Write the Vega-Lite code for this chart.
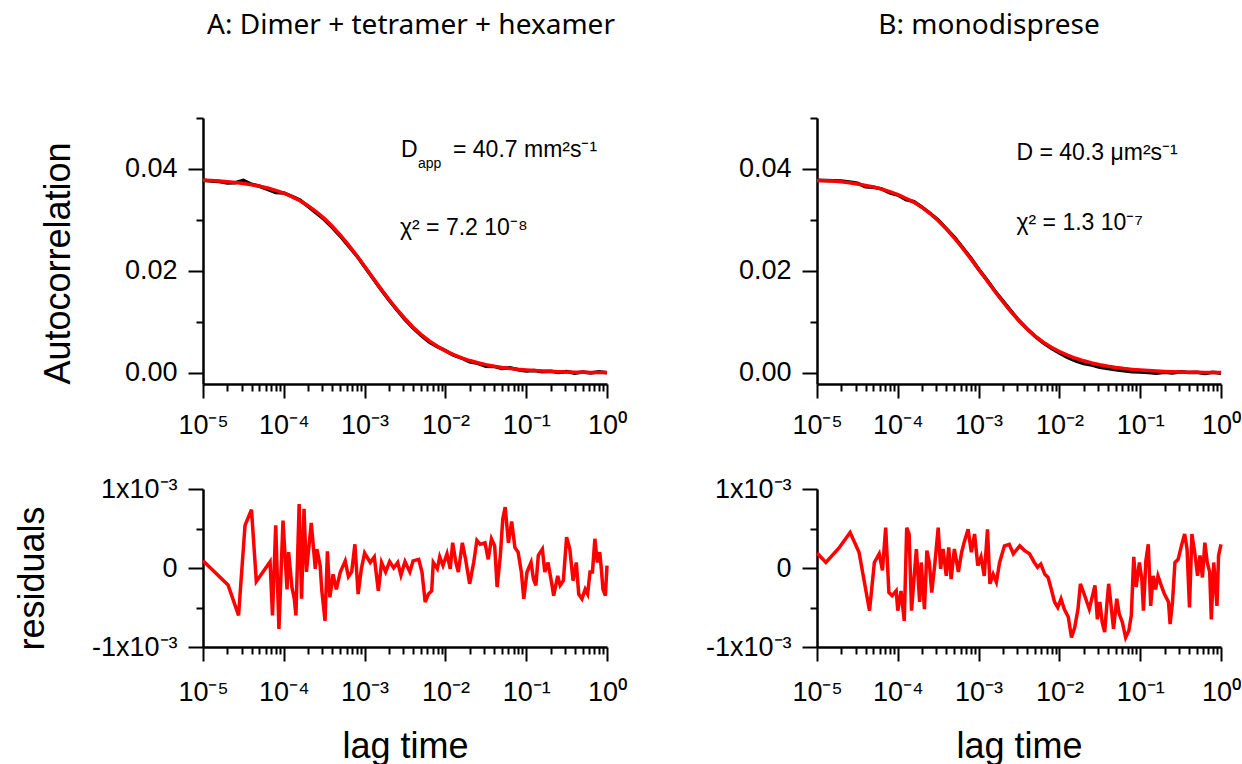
{
  "$schema": "https://vega.github.io/schema/vega-lite/v6.json",
  "autosize": {"type": "pad"},
  "padding": {"left": 14, "top": 12, "right": 0, "bottom": 0},
  "background": "white",
  "config": {
    "view": {"stroke": null},
    "axis": {"grid": false, "domainColor": "#000", "domainWidth": 2.5, "tickColor": "#000", "tickWidth": 2, "labelFont": "Liberation Sans", "labelFontSize": 27, "labelColor": "#000", "titleFont": "Liberation Sans", "titleFontSize": 36, "titleFontWeight": "normal", "titleColor": "#000", "labelOverlap": false, "labelFlush": false},
    "title": {"font": "Noto Sans", "fontSize": 28, "fontWeight": "normal", "color": "#000"}
  },
  "datasets": {
    "fitA": [
      {"log_lag": -5.0, "autocorrelation": 0.0378}, {"log_lag": -4.9, "autocorrelation": 0.03772}, {"log_lag": -4.8, "autocorrelation": 0.03762}, {"log_lag": -4.7, "autocorrelation": 0.0375}, {"log_lag": -4.6, "autocorrelation": 0.03735}, {"log_lag": -4.5, "autocorrelation": 0.03716}, {"log_lag": -4.4, "autocorrelation": 0.03692}, {"log_lag": -4.3, "autocorrelation": 0.03662}, {"log_lag": -4.2, "autocorrelation": 0.03625}, {"log_lag": -4.1, "autocorrelation": 0.0358}, {"log_lag": -4.0, "autocorrelation": 0.03525}, {"log_lag": -3.9, "autocorrelation": 0.03458}, {"log_lag": -3.8, "autocorrelation": 0.03377}, {"log_lag": -3.7, "autocorrelation": 0.0328}, {"log_lag": -3.6, "autocorrelation": 0.03165}, {"log_lag": -3.5, "autocorrelation": 0.0303}, {"log_lag": -3.4, "autocorrelation": 0.02875}, {"log_lag": -3.3, "autocorrelation": 0.027}, {"log_lag": -3.2, "autocorrelation": 0.0251}, {"log_lag": -3.1, "autocorrelation": 0.02305}, {"log_lag": -3.0, "autocorrelation": 0.0209}, {"log_lag": -2.9, "autocorrelation": 0.0187}, {"log_lag": -2.8, "autocorrelation": 0.01652}, {"log_lag": -2.7, "autocorrelation": 0.0144}, {"log_lag": -2.6, "autocorrelation": 0.01242}, {"log_lag": -2.5, "autocorrelation": 0.0106}, {"log_lag": -2.4, "autocorrelation": 0.00895}, {"log_lag": -2.3, "autocorrelation": 0.0075}, {"log_lag": -2.2, "autocorrelation": 0.00625}, {"log_lag": -2.1, "autocorrelation": 0.0052}, {"log_lag": -2.0, "autocorrelation": 0.0043}, {"log_lag": -1.9, "autocorrelation": 0.00355}, {"log_lag": -1.8, "autocorrelation": 0.00292}, {"log_lag": -1.7, "autocorrelation": 0.0024}, {"log_lag": -1.6, "autocorrelation": 0.00197}, {"log_lag": -1.5, "autocorrelation": 0.0016}, {"log_lag": -1.4, "autocorrelation": 0.0013}, {"log_lag": -1.3, "autocorrelation": 0.00105}, {"log_lag": -1.2, "autocorrelation": 0.00085}, {"log_lag": -1.1, "autocorrelation": 0.00068}, {"log_lag": -1.0, "autocorrelation": 0.00055}, {"log_lag": -0.9, "autocorrelation": 0.00044}, {"log_lag": -0.8, "autocorrelation": 0.00035}, {"log_lag": -0.7, "autocorrelation": 0.00028}, {"log_lag": -0.6, "autocorrelation": 0.00022}, {"log_lag": -0.5, "autocorrelation": 0.00017}, {"log_lag": -0.4, "autocorrelation": 0.00013}, {"log_lag": -0.3, "autocorrelation": 0.0001}, {"log_lag": -0.2, "autocorrelation": 0.00008}, {"log_lag": -0.1, "autocorrelation": 0.00006}, {"log_lag": 0.0, "autocorrelation": 0.00005}
    ],
    "dataA": [
      {"log_lag": -5.0, "autocorrelation": 0.0378}, {"log_lag": -4.9, "autocorrelation": 0.03765}, {"log_lag": -4.8, "autocorrelation": 0.03755}, {"log_lag": -4.7, "autocorrelation": 0.03725}, {"log_lag": -4.6, "autocorrelation": 0.0373}, {"log_lag": -4.5, "autocorrelation": 0.03775}, {"log_lag": -4.4, "autocorrelation": 0.037}, {"log_lag": -4.3, "autocorrelation": 0.0366}, {"log_lag": -4.2, "autocorrelation": 0.036}, {"log_lag": -4.1, "autocorrelation": 0.0354}, {"log_lag": -4.0, "autocorrelation": 0.0353}, {"log_lag": -3.9, "autocorrelation": 0.0346}, {"log_lag": -3.8, "autocorrelation": 0.0339}, {"log_lag": -3.7, "autocorrelation": 0.03265}, {"log_lag": -3.6, "autocorrelation": 0.0314}, {"log_lag": -3.5, "autocorrelation": 0.0301}, {"log_lag": -3.4, "autocorrelation": 0.0285}, {"log_lag": -3.3, "autocorrelation": 0.0268}, {"log_lag": -3.2, "autocorrelation": 0.0249}, {"log_lag": -3.1, "autocorrelation": 0.023}, {"log_lag": -3.0, "autocorrelation": 0.0208}, {"log_lag": -2.9, "autocorrelation": 0.0186}, {"log_lag": -2.8, "autocorrelation": 0.0164}, {"log_lag": -2.7, "autocorrelation": 0.0143}, {"log_lag": -2.6, "autocorrelation": 0.01235}, {"log_lag": -2.5, "autocorrelation": 0.01045}, {"log_lag": -2.4, "autocorrelation": 0.0088}, {"log_lag": -2.3, "autocorrelation": 0.00735}, {"log_lag": -2.2, "autocorrelation": 0.00605}, {"log_lag": -2.1, "autocorrelation": 0.0051}, {"log_lag": -2.0, "autocorrelation": 0.00435}, {"log_lag": -1.9, "autocorrelation": 0.00345}, {"log_lag": -1.8, "autocorrelation": 0.0029}, {"log_lag": -1.7, "autocorrelation": 0.00215}, {"log_lag": -1.6, "autocorrelation": 0.00185}, {"log_lag": -1.5, "autocorrelation": 0.0013}, {"log_lag": -1.4, "autocorrelation": 0.00125}, {"log_lag": -1.3, "autocorrelation": 0.00085}, {"log_lag": -1.2, "autocorrelation": 0.001}, {"log_lag": -1.1, "autocorrelation": 0.0006}, {"log_lag": -1.0, "autocorrelation": 0.00035}, {"log_lag": -0.9, "autocorrelation": 0.00045}, {"log_lag": -0.8, "autocorrelation": 0.0002}, {"log_lag": -0.7, "autocorrelation": 0.0003}, {"log_lag": -0.6, "autocorrelation": 0.00005}, {"log_lag": -0.5, "autocorrelation": 0.00025}, {"log_lag": -0.4, "autocorrelation": -0.0001}, {"log_lag": -0.3, "autocorrelation": 0.00015}, {"log_lag": -0.2, "autocorrelation": -0.00005}, {"log_lag": -0.1, "autocorrelation": 0.0002}, {"log_lag": 0.0, "autocorrelation": 0.0}
    ],
    "fitB": [
      {"log_lag": -5.0, "autocorrelation": 0.03775}, {"log_lag": -4.9, "autocorrelation": 0.0377}, {"log_lag": -4.8, "autocorrelation": 0.03762}, {"log_lag": -4.7, "autocorrelation": 0.03748}, {"log_lag": -4.6, "autocorrelation": 0.0373}, {"log_lag": -4.5, "autocorrelation": 0.03705}, {"log_lag": -4.4, "autocorrelation": 0.03678}, {"log_lag": -4.3, "autocorrelation": 0.03645}, {"log_lag": -4.2, "autocorrelation": 0.03605}, {"log_lag": -4.1, "autocorrelation": 0.03555}, {"log_lag": -4.0, "autocorrelation": 0.03495}, {"log_lag": -3.9, "autocorrelation": 0.03425}, {"log_lag": -3.8, "autocorrelation": 0.03345}, {"log_lag": -3.7, "autocorrelation": 0.03245}, {"log_lag": -3.6, "autocorrelation": 0.03125}, {"log_lag": -3.5, "autocorrelation": 0.02985}, {"log_lag": -3.4, "autocorrelation": 0.02825}, {"log_lag": -3.3, "autocorrelation": 0.02645}, {"log_lag": -3.2, "autocorrelation": 0.0245}, {"log_lag": -3.1, "autocorrelation": 0.02245}, {"log_lag": -3.0, "autocorrelation": 0.0203}, {"log_lag": -2.9, "autocorrelation": 0.01815}, {"log_lag": -2.8, "autocorrelation": 0.016}, {"log_lag": -2.7, "autocorrelation": 0.01395}, {"log_lag": -2.6, "autocorrelation": 0.012}, {"log_lag": -2.5, "autocorrelation": 0.0102}, {"log_lag": -2.4, "autocorrelation": 0.0086}, {"log_lag": -2.3, "autocorrelation": 0.0072}, {"log_lag": -2.2, "autocorrelation": 0.006}, {"log_lag": -2.1, "autocorrelation": 0.005}, {"log_lag": -2.0, "autocorrelation": 0.00415}, {"log_lag": -1.9, "autocorrelation": 0.00345}, {"log_lag": -1.8, "autocorrelation": 0.00285}, {"log_lag": -1.7, "autocorrelation": 0.00235}, {"log_lag": -1.6, "autocorrelation": 0.00192}, {"log_lag": -1.5, "autocorrelation": 0.00157}, {"log_lag": -1.4, "autocorrelation": 0.00127}, {"log_lag": -1.3, "autocorrelation": 0.00103}, {"log_lag": -1.2, "autocorrelation": 0.00083}, {"log_lag": -1.1, "autocorrelation": 0.00067}, {"log_lag": -1.0, "autocorrelation": 0.00054}, {"log_lag": -0.9, "autocorrelation": 0.00043}, {"log_lag": -0.8, "autocorrelation": 0.00034}, {"log_lag": -0.7, "autocorrelation": 0.00027}, {"log_lag": -0.6, "autocorrelation": 0.00021}, {"log_lag": -0.5, "autocorrelation": 0.00016}, {"log_lag": -0.4, "autocorrelation": 0.00012}, {"log_lag": -0.3, "autocorrelation": 0.00009}, {"log_lag": -0.2, "autocorrelation": 0.00007}, {"log_lag": -0.1, "autocorrelation": 0.00005}, {"log_lag": 0.0, "autocorrelation": 0.00004}
    ],
    "dataB": [
      {"log_lag": -5.0, "autocorrelation": 0.0378}, {"log_lag": -4.9, "autocorrelation": 0.03775}, {"log_lag": -4.8, "autocorrelation": 0.0377}, {"log_lag": -4.7, "autocorrelation": 0.03765}, {"log_lag": -4.6, "autocorrelation": 0.03745}, {"log_lag": -4.5, "autocorrelation": 0.0372}, {"log_lag": -4.4, "autocorrelation": 0.0365}, {"log_lag": -4.3, "autocorrelation": 0.0364}, {"log_lag": -4.2, "autocorrelation": 0.0361}, {"log_lag": -4.1, "autocorrelation": 0.0353}, {"log_lag": -4.0, "autocorrelation": 0.0349}, {"log_lag": -3.9, "autocorrelation": 0.034}, {"log_lag": -3.8, "autocorrelation": 0.0336}, {"log_lag": -3.7, "autocorrelation": 0.0325}, {"log_lag": -3.6, "autocorrelation": 0.0313}, {"log_lag": -3.5, "autocorrelation": 0.03}, {"log_lag": -3.4, "autocorrelation": 0.0283}, {"log_lag": -3.3, "autocorrelation": 0.0266}, {"log_lag": -3.2, "autocorrelation": 0.0246}, {"log_lag": -3.1, "autocorrelation": 0.0226}, {"log_lag": -3.0, "autocorrelation": 0.02035}, {"log_lag": -2.9, "autocorrelation": 0.0183}, {"log_lag": -2.8, "autocorrelation": 0.0161}, {"log_lag": -2.7, "autocorrelation": 0.0141}, {"log_lag": -2.6, "autocorrelation": 0.01215}, {"log_lag": -2.5, "autocorrelation": 0.01025}, {"log_lag": -2.4, "autocorrelation": 0.00865}, {"log_lag": -2.3, "autocorrelation": 0.00715}, {"log_lag": -2.2, "autocorrelation": 0.0059}, {"log_lag": -2.1, "autocorrelation": 0.0048}, {"log_lag": -2.0, "autocorrelation": 0.0039}, {"log_lag": -1.9, "autocorrelation": 0.003}, {"log_lag": -1.8, "autocorrelation": 0.00235}, {"log_lag": -1.7, "autocorrelation": 0.0018}, {"log_lag": -1.6, "autocorrelation": 0.0015}, {"log_lag": -1.5, "autocorrelation": 0.0011}, {"log_lag": -1.4, "autocorrelation": 0.00085}, {"log_lag": -1.3, "autocorrelation": 0.0006}, {"log_lag": -1.2, "autocorrelation": 0.0004}, {"log_lag": -1.1, "autocorrelation": 0.0002}, {"log_lag": -1.0, "autocorrelation": 0.00015}, {"log_lag": -0.9, "autocorrelation": 0.00005}, {"log_lag": -0.8, "autocorrelation": -0.0001}, {"log_lag": -0.7, "autocorrelation": 0.0001}, {"log_lag": -0.6, "autocorrelation": -0.00005}, {"log_lag": -0.5, "autocorrelation": 0.0002}, {"log_lag": -0.4, "autocorrelation": 0.00005}, {"log_lag": -0.3, "autocorrelation": 0.0001}, {"log_lag": -0.2, "autocorrelation": -0.00015}, {"log_lag": -0.1, "autocorrelation": 0.0001}, {"log_lag": 0.0, "autocorrelation": -0.0001}
    ],
    "resA": [
      {"log_lag": -5.0, "residual": 0.000093}, {"log_lag": -4.69, "residual": -0.000215}, {"log_lag": -4.56, "residual": -0.0006}, {"log_lag": -4.48, "residual": 0.00054}, {"log_lag": -4.4, "residual": 0.00074}, {"log_lag": -4.34, "residual": -0.00017}, {"log_lag": -4.17, "residual": 0.00008}, {"log_lag": -4.14, "residual": -0.0006}, {"log_lag": -4.1, "residual": 0.00054}, {"log_lag": -4.06, "residual": -0.00077}, {"log_lag": -4.01, "residual": 0.0006}, {"log_lag": -3.96, "residual": -0.00027}, {"log_lag": -3.94, "residual": 0.0002}, {"log_lag": -3.9, "residual": -0.00024}, {"log_lag": -3.87, "residual": -0.00039}, {"log_lag": -3.85, "residual": -0.0006}, {"log_lag": -3.81, "residual": 0.00081}, {"log_lag": -3.78, "residual": -0.00039}, {"log_lag": -3.75, "residual": 0.00075}, {"log_lag": -3.72, "residual": -0.00005}, {"log_lag": -3.66, "residual": 0.00057}, {"log_lag": -3.61, "residual": -0.00001}, {"log_lag": -3.59, "residual": 0.00024}, {"log_lag": -3.55, "residual": 0.00003}, {"log_lag": -3.53, "residual": -0.00028}, {"log_lag": -3.49, "residual": -0.00067}, {"log_lag": -3.46, "residual": 0.00021}, {"log_lag": -3.43, "residual": -0.00037}, {"log_lag": -3.39, "residual": -0.00008}, {"log_lag": -3.35, "residual": -0.00027}, {"log_lag": -3.3, "residual": -0.00005}, {"log_lag": -3.24, "residual": 0.00009}, {"log_lag": -3.2, "residual": -0.00011}, {"log_lag": -3.16, "residual": -0.00005}, {"log_lag": -3.12, "residual": 0.0003}, {"log_lag": -3.08, "residual": -0.00033}, {"log_lag": -3.04, "residual": -0.00001}, {"log_lag": -3.0, "residual": 0.00019}, {"log_lag": -2.93, "residual": 0.00007}, {"log_lag": -2.88, "residual": 0.00014}, {"log_lag": -2.83, "residual": -0.00029}, {"log_lag": -2.79, "residual": 0.00007}, {"log_lag": -2.74, "residual": -0.00005}, {"log_lag": -2.69, "residual": 0.00008}, {"log_lag": -2.64, "residual": 0.0}, {"log_lag": -2.59, "residual": 0.00007}, {"log_lag": -2.55, "residual": -0.00009}, {"log_lag": -2.5, "residual": 0.00008}, {"log_lag": -2.44, "residual": -0.00005}, {"log_lag": -2.4, "residual": 0.00009}, {"log_lag": -2.33, "residual": 0.00011}, {"log_lag": -2.29, "residual": -0.00005}, {"log_lag": -2.25, "residual": -0.00043}, {"log_lag": -2.21, "residual": -0.00033}, {"log_lag": -2.17, "residual": -0.00029}, {"log_lag": -2.15, "residual": 0.00007}, {"log_lag": -2.1, "residual": -0.00001}, {"log_lag": -2.07, "residual": 0.00014}, {"log_lag": -2.03, "residual": 0.00003}, {"log_lag": -1.98, "residual": 0.00018}, {"log_lag": -1.94, "residual": -0.00001}, {"log_lag": -1.91, "residual": 0.00032}, {"log_lag": -1.87, "residual": 0.00007}, {"log_lag": -1.84, "residual": -0.00005}, {"log_lag": -1.79, "residual": 0.00032}, {"log_lag": -1.75, "residual": 0.00011}, {"log_lag": -1.7, "residual": -0.0002}, {"log_lag": -1.65, "residual": 0.00007}, {"log_lag": -1.61, "residual": 0.00035}, {"log_lag": -1.57, "residual": 0.0003}, {"log_lag": -1.51, "residual": 0.00032}, {"log_lag": -1.47, "residual": 0.00011}, {"log_lag": -1.43, "residual": 0.00037}, {"log_lag": -1.39, "residual": 0.00028}, {"log_lag": -1.36, "residual": -0.00024}, {"log_lag": -1.32, "residual": 0.00016}, {"log_lag": -1.29, "residual": 0.00062}, {"log_lag": -1.26, "residual": 0.00077}, {"log_lag": -1.22, "residual": 0.00032}, {"log_lag": -1.18, "residual": 0.00059}, {"log_lag": -1.14, "residual": 0.00026}, {"log_lag": -1.1, "residual": 0.0002}, {"log_lag": -1.06, "residual": -0.00005}, {"log_lag": -1.03, "residual": -0.00039}, {"log_lag": -0.99, "residual": -0.00005}, {"log_lag": -0.94, "residual": 0.00007}, {"log_lag": -0.91, "residual": -0.00014}, {"log_lag": -0.88, "residual": -0.00022}, {"log_lag": -0.85, "residual": 0.00016}, {"log_lag": -0.8, "residual": 0.00024}, {"log_lag": -0.77, "residual": -0.00005}, {"log_lag": -0.73, "residual": 0.00007}, {"log_lag": -0.68, "residual": -0.00022}, {"log_lag": -0.66, "residual": -0.00035}, {"log_lag": -0.61, "residual": -0.0001}, {"log_lag": -0.58, "residual": -0.00022}, {"log_lag": -0.54, "residual": -0.00016}, {"log_lag": -0.5, "residual": 0.00039}, {"log_lag": -0.46, "residual": 0.00024}, {"log_lag": -0.42, "residual": -0.00016}, {"log_lag": -0.38, "residual": 0.00007}, {"log_lag": -0.35, "residual": -0.00033}, {"log_lag": -0.31, "residual": -0.00039}, {"log_lag": -0.27, "residual": -0.00027}, {"log_lag": -0.24, "residual": -0.00033}, {"log_lag": -0.21, "residual": -0.00005}, {"log_lag": -0.18, "residual": -0.00005}, {"log_lag": -0.15, "residual": 0.00037}, {"log_lag": -0.12, "residual": 0.00007}, {"log_lag": -0.09, "residual": 0.0002}, {"log_lag": -0.07, "residual": -0.00001}, {"log_lag": -0.05, "residual": -0.00027}, {"log_lag": -0.02, "residual": -0.00035}, {"log_lag": 0.0, "residual": 0.00003}
    ],
    "resB": [
      {"log_lag": -5.0, "residual": 0.00019}, {"log_lag": -4.89, "residual": 0.00007}, {"log_lag": -4.73, "residual": 0.00025}, {"log_lag": -4.59, "residual": 0.00045}, {"log_lag": -4.48, "residual": 0.0002}, {"log_lag": -4.35, "residual": -0.00054}, {"log_lag": -4.29, "residual": 0.00007}, {"log_lag": -4.23, "residual": 0.00018}, {"log_lag": -4.19, "residual": -0.00003}, {"log_lag": -4.15, "residual": 0.00051}, {"log_lag": -4.11, "residual": -0.00031}, {"log_lag": -4.07, "residual": -0.00035}, {"log_lag": -4.02, "residual": -0.00029}, {"log_lag": -4.0, "residual": -0.00054}, {"log_lag": -3.96, "residual": -0.00029}, {"log_lag": -3.92, "residual": -0.00067}, {"log_lag": -3.89, "residual": 0.00051}, {"log_lag": -3.86, "residual": 0.00043}, {"log_lag": -3.83, "residual": -0.00054}, {"log_lag": -3.8, "residual": -0.00014}, {"log_lag": -3.77, "residual": 0.00024}, {"log_lag": -3.73, "residual": -0.00043}, {"log_lag": -3.71, "residual": 0.00007}, {"log_lag": -3.67, "residual": -0.00052}, {"log_lag": -3.64, "residual": 0.00022}, {"log_lag": -3.61, "residual": 0.00007}, {"log_lag": -3.58, "residual": -0.00031}, {"log_lag": -3.54, "residual": 0.00007}, {"log_lag": -3.5, "residual": 0.00051}, {"log_lag": -3.47, "residual": -0.00001}, {"log_lag": -3.44, "residual": 0.00024}, {"log_lag": -3.4, "residual": -0.0001}, {"log_lag": -3.37, "residual": 0.00026}, {"log_lag": -3.34, "residual": -0.00014}, {"log_lag": -3.3, "residual": 0.00024}, {"log_lag": -3.25, "residual": -0.00005}, {"log_lag": -3.21, "residual": 0.0002}, {"log_lag": -3.18, "residual": 0.00032}, {"log_lag": -3.13, "residual": 0.00049}, {"log_lag": -3.09, "residual": 0.0002}, {"log_lag": -3.05, "residual": 0.00043}, {"log_lag": -3.01, "residual": 0.00003}, {"log_lag": -2.97, "residual": 0.00014}, {"log_lag": -2.93, "residual": -0.0001}, {"log_lag": -2.89, "residual": 0.00049}, {"log_lag": -2.86, "residual": -0.0002}, {"log_lag": -2.82, "residual": -0.00008}, {"log_lag": -2.78, "residual": -0.00018}, {"log_lag": -2.74, "residual": 0.00007}, {"log_lag": -2.68, "residual": 0.00028}, {"log_lag": -2.62, "residual": 0.0003}, {"log_lag": -2.57, "residual": 0.00018}, {"log_lag": -2.49, "residual": 0.00028}, {"log_lag": -2.43, "residual": 0.00022}, {"log_lag": -2.37, "residual": 0.00018}, {"log_lag": -2.31, "residual": 0.00007}, {"log_lag": -2.27, "residual": 0.00001}, {"log_lag": -2.23, "residual": 0.00005}, {"log_lag": -2.18, "residual": -0.00008}, {"log_lag": -2.14, "residual": -0.00012}, {"log_lag": -2.1, "residual": -0.00027}, {"log_lag": -2.06, "residual": -0.00043}, {"log_lag": -2.02, "residual": -0.0005}, {"log_lag": -1.98, "residual": -0.00039}, {"log_lag": -1.94, "residual": -0.00052}, {"log_lag": -1.89, "residual": -0.00062}, {"log_lag": -1.85, "residual": -0.00088}, {"log_lag": -1.81, "residual": -0.00075}, {"log_lag": -1.77, "residual": -0.00052}, {"log_lag": -1.74, "residual": -0.0002}, {"log_lag": -1.7, "residual": -0.00031}, {"log_lag": -1.66, "residual": -0.00043}, {"log_lag": -1.63, "residual": -0.00052}, {"log_lag": -1.59, "residual": -0.00035}, {"log_lag": -1.56, "residual": -0.00022}, {"log_lag": -1.53, "residual": -0.00065}, {"log_lag": -1.5, "residual": -0.00043}, {"log_lag": -1.47, "residual": -0.00069}, {"log_lag": -1.44, "residual": -0.00081}, {"log_lag": -1.41, "residual": -0.00043}, {"log_lag": -1.39, "residual": -0.0002}, {"log_lag": -1.36, "residual": -0.00048}, {"log_lag": -1.33, "residual": -0.00077}, {"log_lag": -1.29, "residual": -0.00039}, {"log_lag": -1.26, "residual": -0.00058}, {"log_lag": -1.22, "residual": -0.00069}, {"log_lag": -1.18, "residual": -0.00088}, {"log_lag": -1.14, "residual": -0.00079}, {"log_lag": -1.11, "residual": -0.0006}, {"log_lag": -1.08, "residual": 0.00014}, {"log_lag": -1.05, "residual": -0.00024}, {"log_lag": -1.01, "residual": 0.00007}, {"log_lag": -0.98, "residual": -0.00014}, {"log_lag": -0.96, "residual": -0.00054}, {"log_lag": -0.93, "residual": 0.00009}, {"log_lag": -0.9, "residual": 0.0003}, {"log_lag": -0.87, "residual": -0.00048}, {"log_lag": -0.84, "residual": -0.0001}, {"log_lag": -0.81, "residual": -0.00027}, {"log_lag": -0.78, "residual": -0.0001}, {"log_lag": -0.74, "residual": -0.00022}, {"log_lag": -0.7, "residual": -0.00033}, {"log_lag": -0.65, "residual": -0.00043}, {"log_lag": -0.63, "residual": -0.00071}, {"log_lag": -0.6, "residual": -0.00043}, {"log_lag": -0.57, "residual": 0.00007}, {"log_lag": -0.53, "residual": 0.00011}, {"log_lag": -0.49, "residual": 0.00028}, {"log_lag": -0.45, "residual": 0.00043}, {"log_lag": -0.42, "residual": 0.00024}, {"log_lag": -0.39, "residual": -0.0005}, {"log_lag": -0.36, "residual": 0.00043}, {"log_lag": -0.32, "residual": 0.00016}, {"log_lag": -0.29, "residual": -0.0001}, {"log_lag": -0.26, "residual": 0.00016}, {"log_lag": -0.23, "residual": -0.00012}, {"log_lag": -0.2, "residual": 0.00032}, {"log_lag": -0.17, "residual": 0.00007}, {"log_lag": -0.14, "residual": -0.00005}, {"log_lag": -0.12, "residual": -0.00065}, {"log_lag": -0.09, "residual": 0.00007}, {"log_lag": -0.06, "residual": -0.00035}, {"log_lag": -0.05, "residual": -0.00048}, {"log_lag": -0.03, "residual": 0.00016}, {"log_lag": 0.0, "residual": 0.0003}
    ]
  },
  "columns": 2,
  "bounds": "flush",
  "align": "each",
  "spacing": {"row": 105, "column": 210},
  "concat": [
    {
      "width": 404, "height": 266,
      "title": {"text": "A: Dimer + tetramer + hexamer", "anchor": "middle", "frame": "group", "offset": 55, "dx": 6, "baseline": "alphabetic"},
      "resolve": {"axis": {"x": "independent", "y": "independent"}},
      "layer": [
        {
          "data": {"name": "dataA"},
          "mark": {"type": "line", "color": "#000000", "strokeWidth": 3.5},
          "encoding": {
            "x": {"field": "log_lag", "type": "quantitative", "scale": {"domain": [-5, 0], "nice": false, "zero": false},
                  "axis": {"orient": "bottom", "values": [-5, -4, -3, -2, -1, 0], "tickSize": 14, "labelPadding": 14, "title": null,
                           "labelExpr": "datum.value == -5 ? '10⁻⁵' : datum.value == -4 ? '10⁻⁴' : datum.value == -3 ? '10⁻³' : datum.value == -2 ? '10⁻²' : datum.value == -1 ? '10⁻¹' : '10⁰'"}},
            "y": {"field": "autocorrelation", "type": "quantitative", "scale": {"domain": [-0.0022, 0.05], "nice": false, "zero": false},
                  "axis": {"orient": "left", "values": [0, 0.02, 0.04], "format": ".2f", "tickSize": 15, "labelPadding": 11, "title": "Autocorrelation", "titlePadding": 47, "titleY": 145}}
          }
        },
        {
          "data": {"name": "fitA"},
          "mark": {"type": "line", "color": "#ff0000", "strokeWidth": 3.5},
          "encoding": {
            "x": {"field": "log_lag", "type": "quantitative",
                  "axis": {"orient": "bottom", "values": [-4.699, -4.523, -4.398, -4.301, -4.222, -4.155, -4.097, -4.046, -3.699, -3.523, -3.398, -3.301, -3.222, -3.155, -3.097, -3.046, -2.699, -2.523, -2.398, -2.301, -2.222, -2.155, -2.097, -2.046, -1.699, -1.523, -1.398, -1.301, -1.222, -1.155, -1.097, -1.046, -0.699, -0.523, -0.398, -0.301, -0.222, -0.155, -0.097, -0.046], "tickSize": 7, "labels": false, "domain": false, "title": null}},
            "y": {"field": "autocorrelation", "type": "quantitative",
                  "axis": {"orient": "left", "values": [0.01, 0.03, 0.05], "tickSize": 7, "labels": false, "domain": false, "title": null}}
          }
        },
        {
          "data": {"values": [{}]},
          "mark": {"type": "text", "text": "D", "align": "left", "baseline": "alphabetic", "font": "Liberation Sans", "fontSize": 23, "color": "#000"},
          "encoding": {"x": {"datum": -2.55, "type": "quantitative", "axis": null}, "y": {"datum": 0.04235, "type": "quantitative", "axis": null}}
        },
        {
          "data": {"values": [{}]},
          "mark": {"type": "text", "text": "app", "align": "left", "baseline": "alphabetic", "font": "Liberation Sans", "fontSize": 14, "color": "#000"},
          "encoding": {"x": {"datum": -2.339, "type": "quantitative", "axis": null}, "y": {"datum": 0.04019, "type": "quantitative", "axis": null}}
        },
        {
          "data": {"values": [{}]},
          "mark": {"type": "text", "text": "= 40.7 mm²s⁻¹", "align": "left", "baseline": "alphabetic", "font": "Liberation Sans", "fontSize": 23, "color": "#000"},
          "encoding": {"x": {"datum": -1.906, "type": "quantitative", "axis": null}, "y": {"datum": 0.04235, "type": "quantitative", "axis": null}}
        },
        {
          "data": {"values": [{}]},
          "mark": {"type": "text", "text": "χ² = 7.2 10⁻⁸", "align": "left", "baseline": "alphabetic", "font": "Liberation Sans", "fontSize": 23, "color": "#000"},
          "encoding": {"x": {"datum": -2.562, "type": "quantitative", "axis": null}, "y": {"datum": 0.02704, "type": "quantitative", "axis": null}}
        }
      ]
    },
    {
      "width": 404, "height": 266,
      "title": {"text": "B: monodisprese", "anchor": "middle", "frame": "group", "offset": 55, "dx": -30, "baseline": "alphabetic"},
      "resolve": {"axis": {"x": "independent", "y": "independent"}},
      "layer": [
        {
          "data": {"name": "dataB"},
          "mark": {"type": "line", "color": "#000000", "strokeWidth": 3.5},
          "encoding": {
            "x": {"field": "log_lag", "type": "quantitative", "scale": {"domain": [-5, 0], "nice": false, "zero": false},
                  "axis": {"orient": "bottom", "values": [-5, -4, -3, -2, -1, 0], "tickSize": 14, "labelPadding": 14, "title": null,
                           "labelExpr": "datum.value == -5 ? '10⁻⁵' : datum.value == -4 ? '10⁻⁴' : datum.value == -3 ? '10⁻³' : datum.value == -2 ? '10⁻²' : datum.value == -1 ? '10⁻¹' : '10⁰'"}},
            "y": {"field": "autocorrelation", "type": "quantitative", "scale": {"domain": [-0.0022, 0.05], "nice": false, "zero": false},
                  "axis": {"orient": "left", "values": [0, 0.02, 0.04], "format": ".2f", "tickSize": 15, "labelPadding": 11, "title": null}}
          }
        },
        {
          "data": {"name": "fitB"},
          "mark": {"type": "line", "color": "#ff0000", "strokeWidth": 3.5},
          "encoding": {
            "x": {"field": "log_lag", "type": "quantitative",
                  "axis": {"orient": "bottom", "values": [-4.699, -4.523, -4.398, -4.301, -4.222, -4.155, -4.097, -4.046, -3.699, -3.523, -3.398, -3.301, -3.222, -3.155, -3.097, -3.046, -2.699, -2.523, -2.398, -2.301, -2.222, -2.155, -2.097, -2.046, -1.699, -1.523, -1.398, -1.301, -1.222, -1.155, -1.097, -1.046, -0.699, -0.523, -0.398, -0.301, -0.222, -0.155, -0.097, -0.046], "tickSize": 7, "labels": false, "domain": false, "title": null}},
            "y": {"field": "autocorrelation", "type": "quantitative",
                  "axis": {"orient": "left", "values": [0.01, 0.03, 0.05], "tickSize": 7, "labels": false, "domain": false, "title": null}}
          }
        },
        {
          "data": {"values": [{}]},
          "mark": {"type": "text", "text": "D = 40.3 μm²s⁻¹", "align": "left", "baseline": "alphabetic", "font": "Liberation Sans", "fontSize": 23, "color": "#000"},
          "encoding": {"x": {"datum": -2.531, "type": "quantitative", "axis": null}, "y": {"datum": 0.04176, "type": "quantitative", "axis": null}}
        },
        {
          "data": {"values": [{}]},
          "mark": {"type": "text", "text": "χ² = 1.3 10⁻⁷", "align": "left", "baseline": "alphabetic", "font": "Liberation Sans", "fontSize": 23, "color": "#000"},
          "encoding": {"x": {"datum": -2.531, "type": "quantitative", "axis": null}, "y": {"datum": 0.02802, "type": "quantitative", "axis": null}}
        }
      ]
    },
    {
      "width": 404, "height": 158,
      "resolve": {"axis": {"x": "independent", "y": "independent"}},
      "layer": [
        {
          "data": {"name": "resA"},
          "mark": {"type": "line", "color": "#ff0000", "strokeWidth": 3.5},
          "encoding": {
            "x": {"field": "log_lag", "type": "quantitative", "scale": {"domain": [-5, 0], "nice": false, "zero": false},
                  "axis": {"orient": "bottom", "values": [-5, -4, -3, -2, -1, 0], "tickSize": 14, "labelPadding": 18, "title": "lag time", "titlePadding": 24,
                           "labelExpr": "datum.value == -5 ? '10⁻⁵' : datum.value == -4 ? '10⁻⁴' : datum.value == -3 ? '10⁻³' : datum.value == -2 ? '10⁻²' : datum.value == -1 ? '10⁻¹' : '10⁰'"}},
            "y": {"field": "residual", "type": "quantitative", "scale": {"domain": [-0.001, 0.001], "nice": false, "zero": false},
                  "axis": {"orient": "left", "values": [-0.001, 0, 0.001], "tickSize": 15, "labelPadding": 11, "title": "residuals", "titlePadding": 40, "titleY": 89,
                           "labelExpr": "datum.value > 0.0005 ? '1x10⁻³' : datum.value < -0.0005 ? '-1x10⁻³' : '0'"}}
          }
        },
        {
          "data": {"name": "resA"},
          "mark": {"type": "line", "color": "#ff0000", "strokeWidth": 0, "opacity": 0},
          "encoding": {
            "x": {"field": "log_lag", "type": "quantitative",
                  "axis": {"orient": "bottom", "values": [-4.699, -4.523, -4.398, -4.301, -4.222, -4.155, -4.097, -4.046, -3.699, -3.523, -3.398, -3.301, -3.222, -3.155, -3.097, -3.046, -2.699, -2.523, -2.398, -2.301, -2.222, -2.155, -2.097, -2.046, -1.699, -1.523, -1.398, -1.301, -1.222, -1.155, -1.097, -1.046, -0.699, -0.523, -0.398, -0.301, -0.222, -0.155, -0.097, -0.046], "tickSize": 7, "labels": false, "domain": false, "title": null}},
            "y": {"field": "residual", "type": "quantitative",
                  "axis": {"orient": "left", "values": [-0.0005, 0.0005], "tickSize": 7, "labels": false, "domain": false, "title": null}}
          }
        }
      ]
    },
    {
      "width": 404, "height": 158,
      "resolve": {"axis": {"x": "independent", "y": "independent"}},
      "layer": [
        {
          "data": {"name": "resB"},
          "mark": {"type": "line", "color": "#ff0000", "strokeWidth": 3.5},
          "encoding": {
            "x": {"field": "log_lag", "type": "quantitative", "scale": {"domain": [-5, 0], "nice": false, "zero": false},
                  "axis": {"orient": "bottom", "values": [-5, -4, -3, -2, -1, 0], "tickSize": 14, "labelPadding": 18, "title": "lag time", "titlePadding": 24,
                           "labelExpr": "datum.value == -5 ? '10⁻⁵' : datum.value == -4 ? '10⁻⁴' : datum.value == -3 ? '10⁻³' : datum.value == -2 ? '10⁻²' : datum.value == -1 ? '10⁻¹' : '10⁰'"}},
            "y": {"field": "residual", "type": "quantitative", "scale": {"domain": [-0.001, 0.001], "nice": false, "zero": false},
                  "axis": {"orient": "left", "values": [-0.001, 0, 0.001], "tickSize": 15, "labelPadding": 11, "title": null,
                           "labelExpr": "datum.value > 0.0005 ? '1x10⁻³' : datum.value < -0.0005 ? '-1x10⁻³' : '0'"}}
          }
        },
        {
          "data": {"name": "resB"},
          "mark": {"type": "line", "color": "#ff0000", "strokeWidth": 0, "opacity": 0},
          "encoding": {
            "x": {"field": "log_lag", "type": "quantitative",
                  "axis": {"orient": "bottom", "values": [-4.699, -4.523, -4.398, -4.301, -4.222, -4.155, -4.097, -4.046, -3.699, -3.523, -3.398, -3.301, -3.222, -3.155, -3.097, -3.046, -2.699, -2.523, -2.398, -2.301, -2.222, -2.155, -2.097, -2.046, -1.699, -1.523, -1.398, -1.301, -1.222, -1.155, -1.097, -1.046, -0.699, -0.523, -0.398, -0.301, -0.222, -0.155, -0.097, -0.046], "tickSize": 7, "labels": false, "domain": false, "title": null}},
            "y": {"field": "residual", "type": "quantitative",
                  "axis": {"orient": "left", "values": [-0.0005, 0.0005], "tickSize": 7, "labels": false, "domain": false, "title": null}}
          }
        }
      ]
    }
  ]
}
